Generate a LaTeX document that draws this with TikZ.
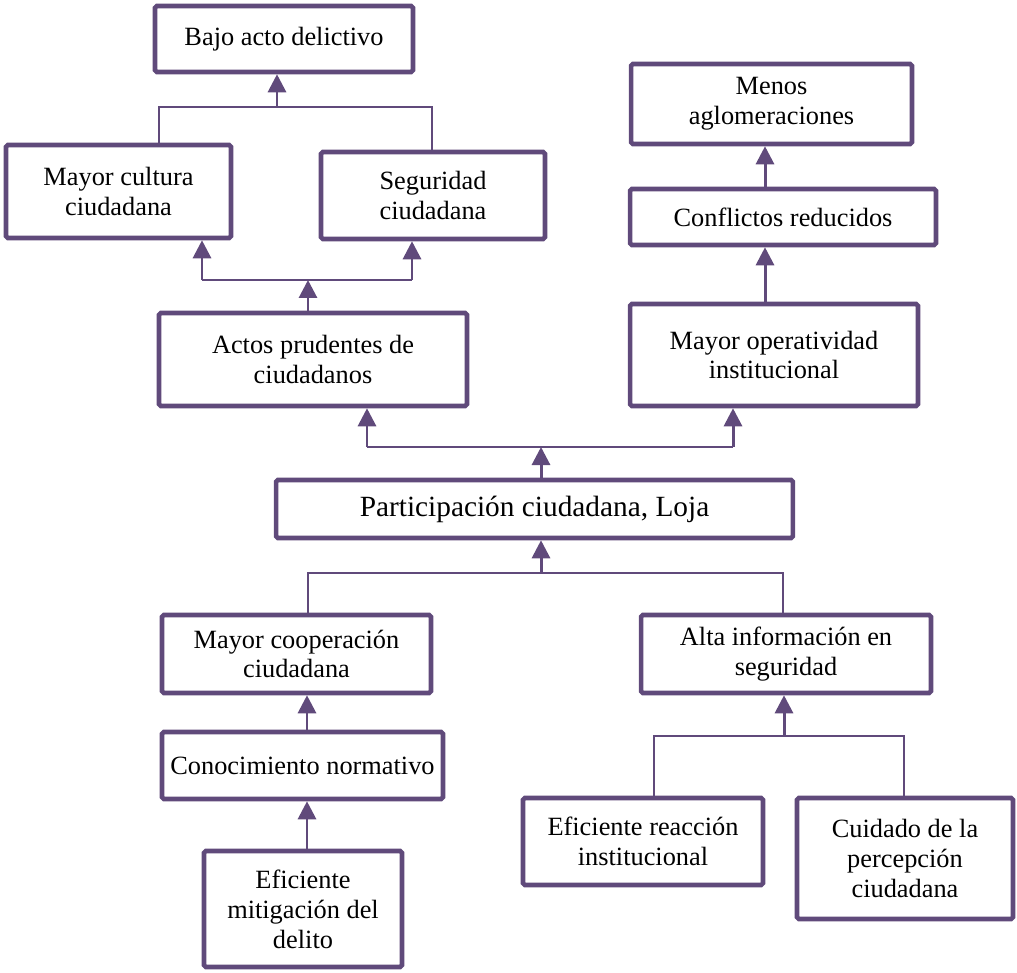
\documentclass[tikz,border=0pt]{standalone}
\usepackage{fontspec}
\setmainfont{Liberation Serif}
\usepackage{xcolor}
\usetikzlibrary{arrows.meta,positioning}
\definecolor{morado}{RGB}{96,74,123}

\begin{document}
\begin{tikzpicture}[x=0.02cm,y=-0.02cm,
	caja/.style={draw=morado,line width=2.6pt,rounded corners=1pt,align=center,
		inner sep=2pt,font=\fontsize{15}{17}\selectfont},
	rama/.style={draw=morado,line width=1.1pt},
	flecha/.style={draw=morado,line width=1.7pt,-{Triangle[width=0.36cm,length=0.36cm]}}]
	\useasboundingbox (0,0) rectangle (1017,973);

	\node[caja,minimum width=5.16cm,minimum height=1.32cm] (bajo) at (284,39) {Bajo acto delictivo};
	\node[caja,minimum width=4.5cm,minimum height=1.86cm] (cultura) at (118.5,191.5) {Mayor cultura\\ciudadana};
	\node[caja,minimum width=4.48cm,minimum height=1.74cm] (seguridad) at (433,195.5) {Seguridad\\ciudadana};
	\node[caja,minimum width=5.62cm,minimum height=1.6cm] (menos) at (771.5,104) {Menos\\aglomeraciones};
	\node[caja,minimum width=6.12cm,minimum height=1.12cm] (conflictos) at (783,217) {Conflictos reducidos};
	\node[caja,minimum width=6.16cm,minimum height=1.86cm] (actos) at (313,359.5) {Actos prudentes de\\ciudadanos};
	\node[caja,minimum width=5.76cm,minimum height=2.04cm] (operatividad) at (774,355) {Mayor operatividad\\institucional};
	\node[caja,minimum width=10.34cm,minimum height=1.16cm,font=\fontsize{16.7}{19}\selectfont] (loja) at (534.5,509) {Participación ciudadana, Loja};
	\node[caja,minimum width=5.38cm,minimum height=1.56cm] (cooperacion) at (296.5,654) {Mayor cooperación\\ciudadana};
	\node[caja,minimum width=5.8cm,minimum height=1.56cm] (informacion) at (786,654) {Alta información en\\seguridad};
	\node[caja,minimum width=5.62cm,minimum height=1.34cm] (normativo) at (302.5,765.5) {Conocimiento normativo};
	\node[caja,minimum width=3.96cm,minimum height=2.32cm] (mitigacion) at (303,909) {Eficiente\\mitigación del\\delito};
	\node[caja,minimum width=4.8cm,minimum height=1.74cm] (reaccion) at (643,841.5) {Eficiente reacción\\institucional};
	\node[caja,minimum width=4.32cm,minimum height=2.42cm] (cuidado) at (905,858.5) {Cuidado de la\\percepción\\ciudadana};

	\coordinate (j1) at (277,107);	\coordinate (j1l) at (159,107);	\coordinate (j1r) at (432,107);
	\coordinate (j2) at (308,280);	\coordinate (j2l) at (202,280);	\coordinate (j2r) at (412,280);
	\coordinate (j3) at (541,447);	\coordinate (j3l) at (367,447);	\coordinate (j3r) at (733,447);
	\coordinate (j4) at (541,573);	\coordinate (j4l) at (308,573);	\coordinate (j4r) at (783,573);
	\coordinate (j5) at (784,736);	\coordinate (j5l) at (654,736);	\coordinate (j5r) at (904,736);
	\coordinate (a1) at (765,0);	\coordinate (a2) at (307,0);

	\draw[rama] (cultura.north -| j1l) -- (j1l) -- (j1r) -- (seguridad.north -| j1r);
	\draw[flecha] (j1) -- (bajo.south -| j1);

	\draw[flecha] (actos.north -| j2) -- (j2);
	\draw[rama] (j2l) -- (j2r);
	\draw[flecha] (j2l) -- (cultura.south -| j2l);
	\draw[flecha] (j2r) -- (seguridad.south -| j2r);

	\draw[flecha] (loja.north -| j3) -- (j3);
	\draw[rama] (j3l) -- (j3r);
	\draw[flecha] (j3l) -- (actos.south -| j3l);
	\draw[flecha] (j3r) -- (operatividad.south -| j3r);

	\draw[flecha] (operatividad.north -| a1) -- (conflictos.south -| a1);
	\draw[flecha] (conflictos.north -| a1) -- (menos.south -| a1);

%	====================================================================
	\draw[rama] (cooperacion.north -| j4l) -- (j4l) -- (j4r) -- (informacion.north -| j4r);
	\draw[flecha] (j4) -- (loja.south -| j4);

	\draw[flecha] (normativo.north -| a2) -- (cooperacion.south -| a2);
	\draw[flecha] (mitigacion.north -| a2) -- (normativo.south -| a2);

	\draw[rama] (reaccion.north -| j5l) -- (j5l) -- (j5r) -- (cuidado.north -| j5r);
	\draw[flecha] (j5) -- (informacion.south -| j5);
\end{tikzpicture}
\end{document}
